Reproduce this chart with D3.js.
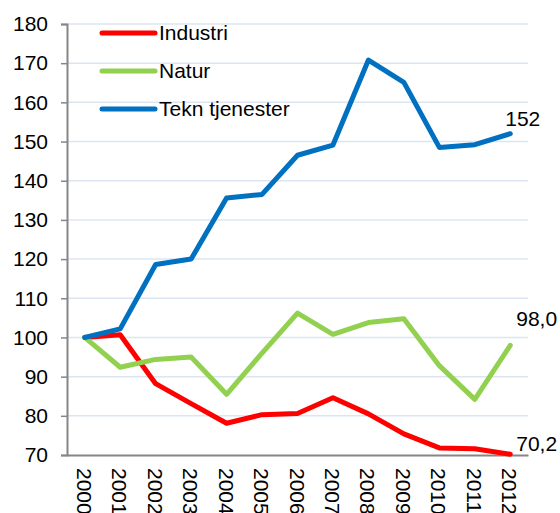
<!DOCTYPE html>
<html>
<head>
<meta charset="utf-8">
<script src="https://cdn.jsdelivr.net/npm/d3@7"></script>
<style>
  body { margin: 0; background: #fff; }
  text { font-family: Arial, "Liberation Sans", sans-serif; fill: #000; }
</style>
</head>
<body>
<div id="chart"></div>
<script>
// data
const years = ["2000","2001","2002","2003","2004","2005","2006","2007","2008","2009","2010","2011","2012"];
const industri = [100, 100.7, 88.2, 83.1, 78.1, 80.3, 80.6, 84.6, 80.5, 75.4, 71.8, 71.6, 70.2];
const natur = [100, 92.4, 94.4, 95.0, 85.5, 96.0, 106.2, 100.8, 103.8, 104.8, 92.8, 84.2, 98.0];
const tekn = [100, 102.2, 118.6, 120.0, 135.6, 136.5, 146.5, 149.1, 170.8, 165.1, 148.5, 149.2, 152.0];
const yTicks = [70, 80, 90, 100, 110, 120, 130, 140, 150, 160, 170, 180];

const series = [
    { name: "Industri", values: industri, color: "#ff0000", label: "70,2", dx: 6, dy: -3 },
    { name: "Natur", values: natur, color: "#92d050", label: "98,0", dx: 6, dy: -19 },
    { name: "Tekn tjenester", values: tekn, color: "#0070c0", label: "152", dx: -5, dy: -8 }
];

const width = 560;
const height = 513;
const margin = { top: 24, right: 32, bottom: 58, left: 67 };
const fontSize = "21px";

const svg = d3.select("#chart")
    .append("svg")
    .attr("width", width)
    .attr("height", height);

const x = d3.scaleBand()
    .domain(years)
    .range([margin.left, width - margin.right]);

const y = d3.scaleLinear()
    .domain([70, 180])
    .range([height - margin.bottom, margin.top]);

// gridlines
svg.append("g")
    .selectAll("line")
    .data(yTicks.slice(1))
    .enter()
    .append("line")
    .attr("x1", margin.left)
    .attr("x2", width - margin.right)
    .attr("y1", d => y(d))
    .attr("y2", d => y(d))
    .attr("stroke", "#dce6f2")
    .attr("stroke-width", 1.5);

// y axis
const yAxis = svg.append("g")
    .attr("transform", `translate(${margin.left},0)`)
    .call(d3.axisLeft(y).tickValues(yTicks).tickSize(6).tickPadding(13));
yAxis.select(".domain").attr("stroke", "#868686").attr("stroke-width", 2);
yAxis.selectAll(".tick line").attr("stroke", "#868686").attr("stroke-width", 1.5);
yAxis.selectAll("text").style("font-size", fontSize).attr("fill", "#000");

// x axis
const xAxis = svg.append("g")
    .attr("transform", `translate(0,${height - margin.bottom})`)
    .call(d3.axisBottom(x).tickSize(0).tickPadding(0));
xAxis.select(".domain").attr("stroke", "#868686").attr("stroke-width", 2);
xAxis.selectAll("text")
    .style("font-size", fontSize)
    .attr("fill", "#000")
    .attr("text-anchor", "start")
    .attr("dy", null)
    .attr("y", 0)
    .attr("transform", "translate(-8,13) rotate(90)");

const line = d3.line()
    .x((d, i) => x(years[i]) + x.bandwidth() / 2)
    .y(d => y(d));

svg.selectAll(".series")
    .data(series)
    .enter()
    .append("path")
    .attr("class", "series")
    .attr("d", d => line(d.values))
    .attr("fill", "none")
    .attr("stroke", d => d.color)
    .attr("stroke-width", 5)
    .attr("stroke-linejoin", "round")
    .attr("stroke-linecap", "round");

// end labels
const last = years.length - 1;
svg.selectAll(".endlabel")
    .data(series)
    .enter()
    .append("text")
    .attr("class", "endlabel")
    .attr("x", d => x(years[last]) + x.bandwidth() / 2 + d.dx)
    .attr("y", d => y(d.values[last]) + d.dy)
    .style("font-size", fontSize)
    .text(d => d.label);

// legend
const legend = svg.append("g");
series.forEach((s, i) => {
    const ly = 33 + i * 38;
    legend.append("line")
        .attr("x1", 102).attr("x2", 155)
        .attr("y1", ly).attr("y2", ly)
        .attr("stroke", s.color)
        .attr("stroke-width", 5)
        .attr("stroke-linecap", "round");
    legend.append("text")
        .attr("x", 159)
        .attr("y", ly + 7)
        .style("font-size", fontSize)
        .text(s.name);
});
</script>
</body>
</html>
